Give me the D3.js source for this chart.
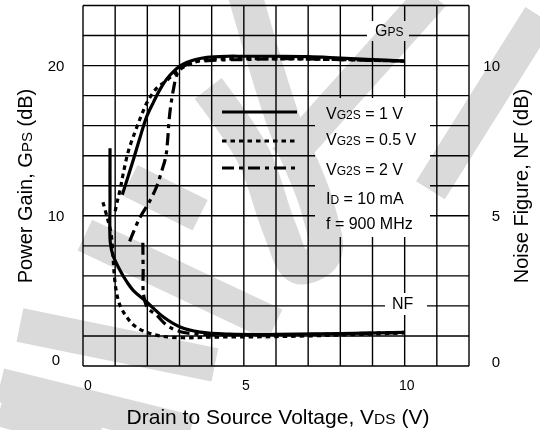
<!DOCTYPE html>
<html>
<head>
<meta charset="utf-8">
<script src="https://cdn.jsdelivr.net/npm/d3@7"></script>
<style>
  body { margin: 0; background: #fff; }
  text { font-family: "Liberation Sans", Arial, sans-serif; fill: #000; }
</style>
</head>
<body>
<div id="viz"></div>
<script>
// ---- data: [VDS (V), value (dB)] ----
var xTicks = [0, 5, 10];
var gainTicks = [0, 10, 20];
var nfTicks = [0, 5, 10];

var gain1V = [[1.22, 11.4], [1.4, 12.6], [1.56, 13.7], [1.77, 15.2], [1.98, 16.6], [2.2, 17.6],
  [2.39, 18.4], [2.6, 19.1], [2.81, 19.6], [3.0, 19.95], [3.22, 20.2], [3.5, 20.4], [3.85, 20.55],
  [4.5, 20.62], [5, 20.62], [6, 20.62], [7, 20.6], [8, 20.5], [9, 20.4], [10, 20.3]];
var gain05V = [[1.0, 10.3], [1.07, 11.0], [1.15, 11.7], [1.25, 12.8], [1.41, 14.3], [1.62, 15.6],
  [1.8, 16.6], [1.98, 17.5], [2.29, 18.5], [2.6, 19.0], [2.91, 19.6], [3.22, 20.0], [3.64, 20.35],
  [4.5, 20.45], [6, 20.45], [8, 20.4], [9, 20.35], [10, 20.3]];
var gain2V = [[1.45, 8.3], [1.75, 9.8], [2.08, 11.0], [2.3, 12.0], [2.45, 13.0], [2.57, 13.9],
  [2.63, 15.0], [2.67, 16.2], [2.72, 17.2], [2.81, 18.4], [2.92, 19.4], [3.07, 19.85], [3.4, 20.2],
  [4, 20.35], [5, 20.4], [6, 20.45], [7, 20.45], [8, 20.4], [9, 20.35], [10, 20.3]];

var nf1V = [[0.84, 7.25], [0.84, 5.6], [0.85, 4.1], [0.93, 3.69], [1.15, 3.19], [1.37, 2.79],
  [1.56, 2.52], [1.98, 2.13], [2.5, 1.63], [3.02, 1.3], [3.64, 1.13], [4.57, 1.06], [6, 1.05],
  [8, 1.08], [10, 1.12]];
var nf05V = [[0.62, 5.45], [0.75, 4.95], [0.87, 4.42], [0.93, 3.69], [0.96, 3.19], [1.03, 2.52],
  [1.15, 2.02], [1.34, 1.66], [1.62, 1.32], [1.99, 1.12], [2.46, 0.99], [3.11, 0.94], [3.95, 0.96],
  [6, 0.98], [8, 1.03], [10, 1.1]];
var nf2V = [[1.86, 4.1], [1.87, 3.2], [1.88, 2.4], [2.0, 1.95], [2.3, 1.68], [2.6, 1.36],
  [3.0, 1.15], [3.5, 1.07], [4, 1.05], [6, 1.04], [8, 1.07], [10, 1.12]];

var legendLabels = [
  [["V", 16], ["G2S", 12], [" = 1 V", 16]],
  [["V", 16], ["G2S", 12], [" = 0.5 V", 16]],
  [["V", 16], ["G2S", 12], [" = 2 V", 16]],
  [["I", 16], ["D", 12], [" = 10 mA", 16]],
  [["f = 900 MHz", 16]]
];

// faint background watermark strokes, in chart units (VDS, gain dB)
var watermark = [
  [[3.89, 18.48], [5.3, 14.0], [6.1, 9.2], [6.7, 6.6], [7.5, 7.4], [7.3, 10.5], [6.2, 16.5], [5.04, 24.7]],
  [[10.88, 24.7], [6.28, 13.7]],
  [[14.2, 23.3], [10.8, 11.7]],
  [[1.46, 12.37], [3.64, 10.04]],
  [[0.06, 8.71], [5.97, 2.73]],
  [[-1.96, 2.73], [4.1, 0.07]],
  [[-2.58, -1.26], [3.33, -4.39]],
  [[-2.58, -2.9], [0.53, -4.6]]
];

var styles = {
  solid: null,
  dotted: "4.5,4",
  dashdot: "12,5,4,5"
};

// ---- svg ----
var W = 540, H = 430;
var svg = d3.select("#viz").append("svg")
  .attr("width", W).attr("height", H);

var x = d3.scaleLinear().domain([0, 12]).range([83, 469]);
var yG = d3.scaleLinear().domain([0, 24]).range([366, 5.5]);
var yN = d3.scaleLinear().domain([0, 12]).range([366, 5.5]);

// grid
var grid = svg.append("g").attr("stroke", "#000").attr("stroke-width", 1.4);
grid.selectAll(".vline").data(d3.range(0, 13)).enter().append("line")
  .attr("x1", function(d) { return x(d); }).attr("x2", function(d) { return x(d); })
  .attr("y1", yG(24)).attr("y2", yG(0));
grid.selectAll(".hline").data(d3.range(0, 25, 2)).enter().append("line")
  .attr("y1", function(d) { return yG(d); }).attr("y2", function(d) { return yG(d); })
  .attr("x1", x(0)).attr("x2", x(12));

// white patches behind the in-plot labels
svg.append("rect").attr("x", 315).attr("y", 98).attr("width", 115).attr("height", 139).attr("fill", "#fff");
svg.append("rect").attr("x", 367).attr("y", 21).attr("width", 42).attr("height", 20).attr("fill", "#fff");
svg.append("rect").attr("x", 385).attr("y", 293).attr("width", 42).attr("height", 22).attr("fill", "#fff");

// curves
var lineG = d3.line().x(function(d) { return x(d[0]); }).y(function(d) { return yG(d[1]); })
  .curve(d3.curveCatmullRom.alpha(0.5));
var lineN = d3.line().x(function(d) { return x(d[0]); }).y(function(d) { return yN(d[1]); })
  .curve(d3.curveCatmullRom.alpha(0.5));

var curves = [
  { d: gain1V, line: lineG, dash: styles.solid },
  { d: gain05V, line: lineG, dash: styles.dotted },
  { d: gain2V, line: lineG, dash: styles.dashdot },
  { d: nf1V, line: lineN, dash: styles.solid },
  { d: nf05V, line: lineN, dash: styles.dotted },
  { d: nf2V, line: lineN, dash: styles.dashdot }
];
curves.forEach(function(c) {
  svg.append("path").datum(c.d)
    .attr("fill", "none")
    .attr("stroke", "#000")
    .attr("stroke-width", 3.2)
    .attr("stroke-dasharray", c.dash)
    .attr("d", c.line);
});

// tick labels
svg.selectAll(".xl").data(xTicks).enter().append("text")
  .attr("x", function(d) { return x(d) + (d === 0 ? 5 : 2); })
  .attr("y", 390).attr("text-anchor", "middle").style("font-size", "14px")
  .text(function(d) { return d; });
svg.selectAll(".gl").data(gainTicks).enter().append("text")
  .attr("x", 56).attr("y", function(d) { return yG(d) + (d === 0 ? -1 : 5); })
  .attr("text-anchor", "middle").style("font-size", "15px")
  .text(function(d) { return d; });
svg.selectAll(".nl").data(nfTicks).enter().append("text")
  .attr("x", 500).attr("y", function(d) { return yN(d) + (d === 0 ? 1 : 5); })
  .attr("text-anchor", "end").style("font-size", "15px")
  .text(function(d) { return d; });

// text made of pieces with smaller sub letters
function richText(g, parts) {
  var t = g.append("text");
  parts.forEach(function(p) {
    t.append("tspan").style("font-size", p[1] + "px").text(p[0]);
  });
  return t;
}

richText(svg.append("g").attr("transform", "translate(278,424)"),
  [["Drain to Source Voltage, V", 21], ["DS", 15.5], [" (V)", 21]])
  .attr("text-anchor", "middle");
richText(svg.append("g").attr("transform", "translate(32,186) rotate(-90)"),
  [["Power Gain, G", 20], ["PS", 15], [" (dB)", 20]])
  .attr("text-anchor", "middle");
richText(svg.append("g").attr("transform", "translate(528,186) rotate(-90)"),
  [["Noise Figure, NF (dB)", 20]])
  .attr("text-anchor", "middle");

richText(svg.append("g").attr("transform", "translate(375,36)"), [["G", 16], ["PS", 12]]);
richText(svg.append("g").attr("transform", "translate(392,309)"), [["NF", 16]]);

// legend
var legendY = [112, 141, 168];
var legendDash = [styles.solid, styles.dotted, styles.dashdot];
legendY.forEach(function(ly, i) {
  svg.append("line").attr("x1", 222).attr("x2", 297).attr("y1", ly).attr("y2", ly)
    .attr("stroke", "#000").attr("stroke-width", 3.2).attr("stroke-dasharray", legendDash[i]);
});
var textY = [119, 145, 175, 204, 229];
legendLabels.forEach(function(parts, i) {
  richText(svg.append("g").attr("transform", "translate(326," + textY[i] + ")"), parts);
});

// watermark laid over everything; multiply keeps the black ink black
var wm = d3.line().x(function(d) { return x(d[0]); }).y(function(d) { return yG(d[1]); })
  .curve(d3.curveCatmullRom.alpha(0.5));
svg.append("g").style("mix-blend-mode", "multiply")
  .selectAll("path").data(watermark).enter().append("path")
  .attr("d", wm)
  .attr("fill", "none")
  .attr("stroke", "#dadada")
  .attr("stroke-width", 34);
</script>
</body>
</html>
